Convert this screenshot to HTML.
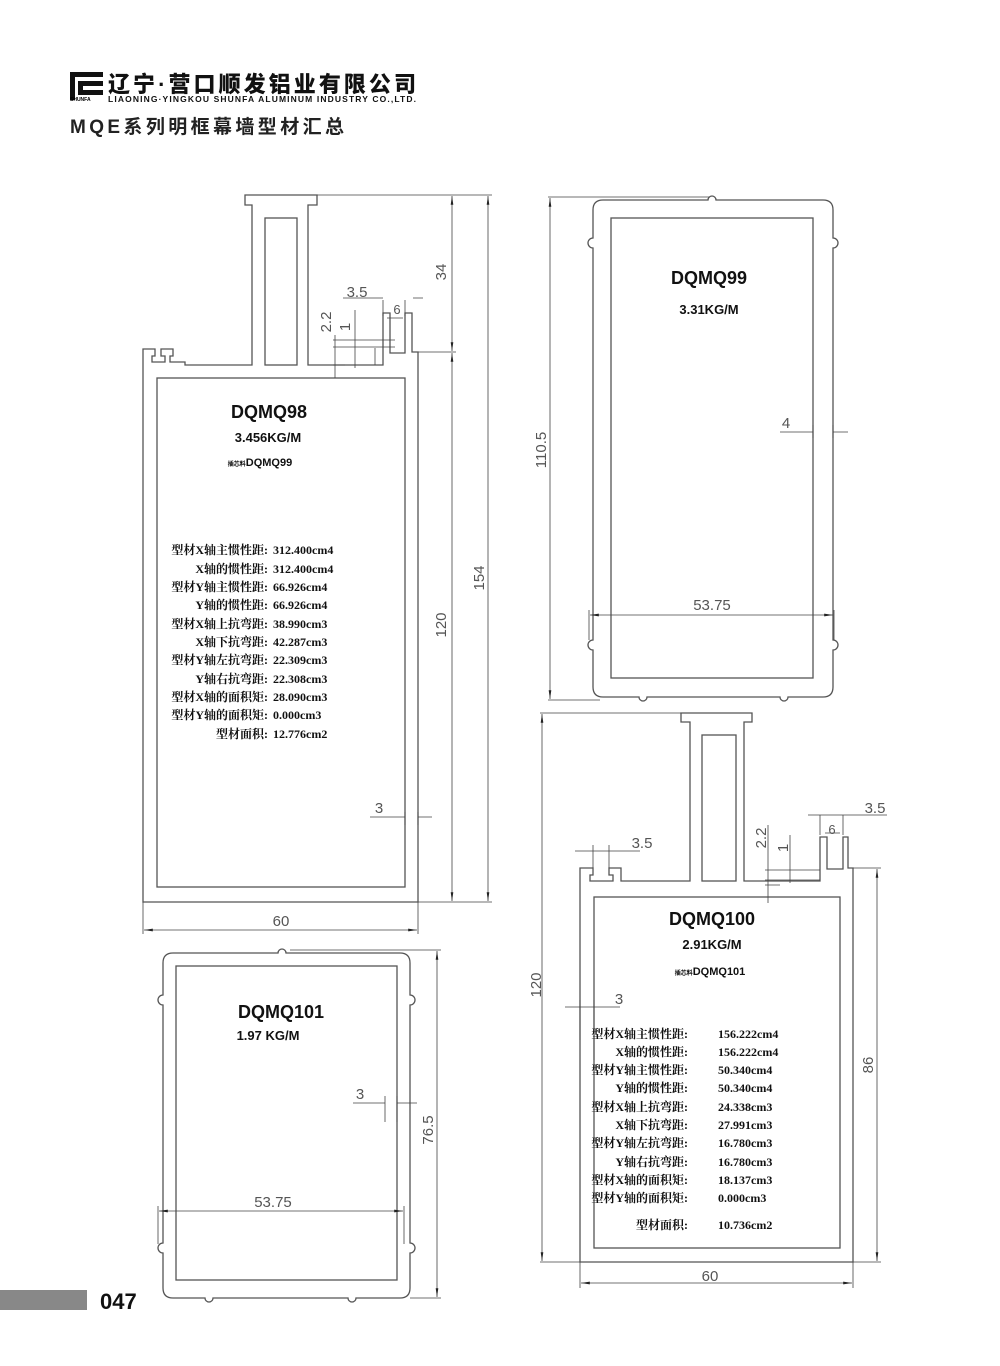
<!DOCTYPE html>
<html><head><meta charset="utf-8"><style>
html,body{margin:0;padding:0;background:#fff;}
svg{display:block;}
.l{fill:none;stroke:#555;stroke-width:1.3;}
.d{fill:none;stroke:#444;stroke-width:0.8;}
.dt{font-family:"Liberation Sans",sans-serif;font-size:15px;fill:#555;}
.t{font-family:"Liberation Sans",sans-serif;font-weight:bold;fill:#111;}
.p{font-family:"Liberation Serif","Noto Serif CJK SC",serif;font-weight:bold;font-size:12px;fill:#111;}
</style></head><body>
<svg width="1000" height="1366" viewBox="0 0 1000 1366" xmlns="http://www.w3.org/2000/svg">
<defs><marker id="a" viewBox="0 0 10 10" refX="10" refY="5" markerWidth="11" markerHeight="11" orient="auto-start-reverse"><path d="M0,3.5 L10,5 L0,6.5z" fill="#222"/></marker></defs>

<!-- header -->
<g fill="#111">
<rect x="70" y="72" width="33" height="5"/>
<rect x="78" y="81" width="25" height="5"/>
<rect x="70" y="72" width="5" height="28"/>
<rect x="78" y="81" width="5" height="14"/>
<rect x="78" y="90" width="25" height="5"/>
</g>
<text x="70" y="101" style="font-family:'Liberation Sans';font-size:5px;font-weight:bold">SHUNFA</text>
<text x="108" y="92" class="t" style="font-family:'Liberation Sans','Noto Sans CJK SC',sans-serif;font-size:22px;font-weight:900" textLength="308">辽宁·营口顺发铝业有限公司</text>
<text x="108" y="102" class="t" style="font-size:8.5px" textLength="308">LIAONING·YINGKOU SHUNFA ALUMINUM INDUSTRY CO.,LTD.</text>
<text x="70" y="133" style="font-family:'Liberation Sans','Noto Sans CJK SC',sans-serif;font-size:19px;font-weight:bold;fill:#222" textLength="274">MQE系列明框幕墙型材汇总</text>

<!-- DQMQ98 -->
<path class="l" d="M143,902 V349 H155 V356 H152 V362 H165 V356 H161 V349 H173 V356 H170 V362 H185 V365 H252 V205 H245 V195 H317 V205 H308 V365 H383 V313 H390 V353 H405 V313 H412 V352 H418 V902 Z"/>
<rect class="l" x="157" y="378" width="248" height="509"/>
<rect class="l" x="265" y="218" width="32" height="147"/>
<path class="d" d="M317,195 H492 M418,352 H456 M418,902 H492 M143,902 V934 M418,902 V934 M405,812 V825 M418,812 V825"/>
<line class="d" x1="488" y1="196" x2="488" y2="901" marker-start="url(#a)" marker-end="url(#a)"/>
<line class="d" x1="452" y1="196" x2="452" y2="351" marker-start="url(#a)" marker-end="url(#a)"/>
<line class="d" x1="452" y1="353" x2="452" y2="901" marker-start="url(#a)" marker-end="url(#a)"/>
<line class="d" x1="144" y1="930" x2="417" y2="930" marker-start="url(#a)" marker-end="url(#a)"/>
<path class="d" d="M370,817 H405 M418,817 H432 M343,298 H383 M413,298 H423 M383,300 V316 M405,300 V316 M387,318 H403 M333,340 H395 M333,347 H395 M333,365 H345 M355,310 V368 M335,335 V378 M375,348 V365"/>
<text class="dt" x="281" y="926" text-anchor="middle">60</text>
<text class="dt" x="379" y="813" text-anchor="middle">3</text>
<text class="dt" x="357" y="297" text-anchor="middle">3.5</text>
<text class="dt" x="397" y="314" text-anchor="middle" style="font-size:13px">6</text>
<text class="dt" transform="translate(331,322) rotate(-90)" text-anchor="middle">2.2</text>
<text class="dt" transform="translate(350,327) rotate(-90)" text-anchor="middle">1</text>
<text class="dt" transform="translate(446,272) rotate(-90)" text-anchor="middle">34</text>
<text class="dt" transform="translate(446,625) rotate(-90)" text-anchor="middle">120</text>
<text class="dt" transform="translate(484,578) rotate(-90)" text-anchor="middle">154</text>
<text class="t" x="269" y="418" text-anchor="middle" style="font-size:18px">DQMQ98</text>
<text class="t" x="268" y="442" text-anchor="middle" style="font-size:13px">3.456KG/M</text>
<text class="t" x="260" y="466" text-anchor="middle" style="font-size:11px"><tspan style="font-size:6px">插芯料</tspan>DQMQ99</text>
<g class="p" text-anchor="end">
<text x="268" y="554">型材X轴主惯性距:</text><text x="268" y="573">X轴的惯性距:</text><text x="268" y="591">型材Y轴主惯性距:</text><text x="268" y="609">Y轴的惯性距:</text><text x="268" y="628">型材X轴上抗弯距:</text><text x="268" y="646">X轴下抗弯距:</text><text x="268" y="664">型材Y轴左抗弯距:</text><text x="268" y="683">Y轴右抗弯距:</text><text x="268" y="701">型材X轴的面积矩:</text><text x="268" y="719">型材Y轴的面积矩:</text><text x="268" y="738">型材面积:</text>
</g>
<g class="p">
<text x="273" y="554">312.400cm4</text><text x="273" y="573">312.400cm4</text><text x="273" y="591">66.926cm4</text><text x="273" y="609">66.926cm4</text><text x="273" y="628">38.990cm3</text><text x="273" y="646">42.287cm3</text><text x="273" y="664">22.309cm3</text><text x="273" y="683">22.308cm3</text><text x="273" y="701">28.090cm3</text><text x="273" y="719">0.000cm3</text><text x="273" y="738">12.776cm2</text>
</g>

<!-- DQMQ99 -->
<path class="l" d="M603,200 H708 A4,4 0 0 1 716,200 H823 Q833,200 833,210 V238 A4,4 0 0 1 833,248 V640 A4,4 0 0 1 833,650 V687 Q833,697 823,697 H788 A4,4 0 0 1 780,697 H647 A4,4 0 0 1 639,697 H603 Q593,697 593,687 V650 A4,4 0 0 1 593,640 V248 A4,4 0 0 1 593,238 V210 Q593,200 603,200 Z"/>
<rect class="l" x="611" y="218" width="202" height="460"/>
<path class="d" d="M548,197 H710 M548,700 H600 M589,610 V640 M834,610 V640 M813,425 V438 M833,425 V438 M780,432 H813 M833,432 H848"/>
<line class="d" x1="550" y1="198" x2="550" y2="699" marker-start="url(#a)" marker-end="url(#a)"/>
<line class="d" x1="590" y1="615" x2="833" y2="615" marker-start="url(#a)" marker-end="url(#a)"/>
<text class="dt" x="712" y="610" text-anchor="middle">53.75</text>
<text class="dt" x="786" y="428" text-anchor="middle">4</text>
<text class="dt" transform="translate(546,450) rotate(-90)" text-anchor="middle">110.5</text>
<text class="t" x="709" y="284" text-anchor="middle" style="font-size:18px">DQMQ99</text>
<text class="t" x="709" y="314" text-anchor="middle" style="font-size:13px">3.31KG/M</text>

<!-- DQMQ100 -->
<path class="l" d="M580,1262 V868 H593 V875 H590 V881 H613 V875 H609 V868 H621 V881 H690 V722 H681 V713 H752 V722 H744 V881 H820 V837 H827 V869 H843 V837 H848 V868 H853 V1262 Z"/>
<rect class="l" x="594" y="897" width="246" height="351"/>
<rect class="l" x="702" y="735" width="34" height="146"/>
<path class="d" d="M540,713 H681 M540,1262 H580 M853,1262 H881 M853,868 H881 M580,1262 V1288 M853,1262 V1288 M575,851 H640 M593,845 V868 M609,845 V868 M808,815 H887 M820,815 V835 M843,815 V835 M825,833 H840 M765,870 H820 M765,880 H820 M765,885 H780 M768,825 V903 M790,835 V883 M565,1007 H620 M580,1000 V1040 M594,1000 V1060"/>
<line class="d" x1="542" y1="714" x2="542" y2="1261" marker-start="url(#a)" marker-end="url(#a)"/>
<line class="d" x1="877" y1="869" x2="877" y2="1261" marker-start="url(#a)" marker-end="url(#a)"/>
<line class="d" x1="581" y1="1283" x2="852" y2="1283" marker-start="url(#a)" marker-end="url(#a)"/>
<text class="dt" x="710" y="1281" text-anchor="middle">60</text>
<text class="dt" x="619" y="1004" text-anchor="middle">3</text>
<text class="dt" x="642" y="848" text-anchor="middle">3.5</text>
<text class="dt" x="875" y="813" text-anchor="middle">3.5</text>
<text class="dt" x="832" y="834" text-anchor="middle" style="font-size:13px">6</text>
<text class="dt" transform="translate(766,838) rotate(-90)" text-anchor="middle">2.2</text>
<text class="dt" transform="translate(788,848) rotate(-90)" text-anchor="middle">1</text>
<text class="dt" transform="translate(541,985) rotate(-90)" text-anchor="middle">120</text>
<text class="dt" transform="translate(873,1065) rotate(-90)" text-anchor="middle">86</text>
<text class="t" x="712" y="925" text-anchor="middle" style="font-size:18px">DQMQ100</text>
<text class="t" x="712" y="949" text-anchor="middle" style="font-size:13px">2.91KG/M</text>
<text class="t" x="710" y="975" text-anchor="middle" style="font-size:11px"><tspan style="font-size:6px">插芯料</tspan>DQMQ101</text>
<g class="p" text-anchor="end">
<text x="688" y="1038">型材X轴主惯性距:</text><text x="688" y="1056">X轴的惯性距:</text><text x="688" y="1074">型材Y轴主惯性距:</text><text x="688" y="1092">Y轴的惯性距:</text><text x="688" y="1111">型材X轴上抗弯距:</text><text x="688" y="1129">X轴下抗弯距:</text><text x="688" y="1147">型材Y轴左抗弯距:</text><text x="688" y="1166">Y轴右抗弯距:</text><text x="688" y="1184">型材X轴的面积矩:</text><text x="688" y="1202">型材Y轴的面积矩:</text><text x="688" y="1229">型材面积:</text>
</g>
<g class="p">
<text x="718" y="1038">156.222cm4</text><text x="718" y="1056">156.222cm4</text><text x="718" y="1074">50.340cm4</text><text x="718" y="1092">50.340cm4</text><text x="718" y="1111">24.338cm3</text><text x="718" y="1129">27.991cm3</text><text x="718" y="1147">16.780cm3</text><text x="718" y="1166">16.780cm3</text><text x="718" y="1184">18.137cm3</text><text x="718" y="1202">0.000cm3</text><text x="718" y="1229">10.736cm2</text>
</g>

<!-- DQMQ101 -->
<path class="l" d="M173,953 H278 A4,4 0 0 1 286,953 H400 Q410,953 410,963 V995 A4,4 0 0 1 410,1005 V1243 A4,4 0 0 1 410,1253 V1288 Q410,1298 400,1298 H356 A4,4 0 0 1 348,1298 H213 A4,4 0 0 1 205,1298 H173 Q163,1298 163,1288 V1253 A4,4 0 0 1 163,1243 V1005 A4,4 0 0 1 163,995 V963 Q163,953 173,953 Z"/>
<rect class="l" x="176" y="966" width="221" height="314"/>
<path class="d" d="M290,950 H441 M410,1298 H441 M158,1206 V1244 M404,1206 V1244 M385,1096 V1122 M397,1096 V1122 M353,1103 H385 M397,1103 H417"/>
<line class="d" x1="437" y1="951" x2="437" y2="1297" marker-start="url(#a)" marker-end="url(#a)"/>
<line class="d" x1="159" y1="1211" x2="403" y2="1211" marker-start="url(#a)" marker-end="url(#a)"/>
<text class="dt" x="273" y="1207" text-anchor="middle">53.75</text>
<text class="dt" x="360" y="1099" text-anchor="middle">3</text>
<text class="dt" transform="translate(433,1130) rotate(-90)" text-anchor="middle">76.5</text>
<text class="t" x="281" y="1018" text-anchor="middle" style="font-size:18px">DQMQ101</text>
<text class="t" x="268" y="1040" text-anchor="middle" style="font-size:13px">1.97  KG/M</text>

<!-- footer -->
<rect x="0" y="1290" width="87" height="20" fill="#888"/>
<text x="100" y="1309" style="font-family:'Liberation Sans',sans-serif;font-size:22px;font-weight:bold;fill:#111">047</text>
</svg>
</body></html>
